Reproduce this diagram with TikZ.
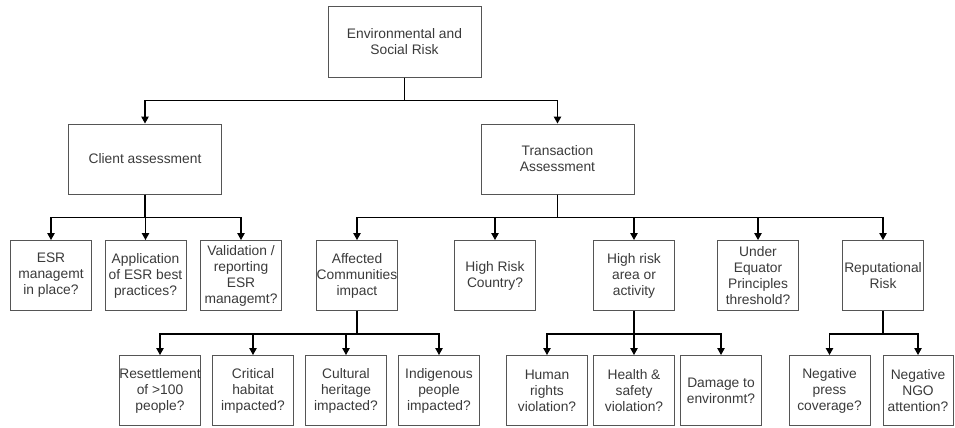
\documentclass[tikz,border=0pt]{standalone}
\usepackage{fontspec}
\setmainfont{Liberation Sans}
\usetikzlibrary{arrows.meta}
\definecolor{boxline}{HTML}{555555}
\definecolor{textgray}{HTML}{3A3A3A}

\begin{document}
\begin{tikzpicture}[
    x=1pt, y=-1pt,
    every node/.style={font=\fontsize{13.8}{16}\selectfont, text=textgray},
    mainbox/.style={
        rectangle,
        draw=boxline,
        line width=1pt,
        minimum width=153pt,
        minimum height=70pt,
        inner sep=0pt,
        align=center
    },
    qbox/.style={
        mainbox,
        minimum width=81pt
    },
    arrow/.style={line width=1.1pt, -{Triangle[width=7.5pt,length=7pt]}, color=black}
]
\useasboundingbox (0,0) rectangle (955,428);

% Root
\node[mainbox] (root) at (404.5,42) {Environmental and\\Social Risk};

% Main branches
\node[mainbox] (client) at (145,159) {Client assessment};
\node[mainbox] (trans) at (557.5,159) {Transaction\\Assessment};

\draw[arrow] (root.south) -- ++(0,23) -| (client.north);
\draw[arrow] (root.south) -- ++(0,23) -| (trans.north);

% Client questions
\node[qbox] (c1) at (51,275.5) {ESR\\managemt\\in place?};
\node[qbox] (c2) at (145.5,275.5) {Application\\of ESR best\\practices?};
\node[qbox] (c3) at (241,275.5) {Validation /\\reporting\\ESR\\managemt?};

% Transaction topics
\node[qbox] (t1) at (357,275.5) {Affected\\Communities\\impact};
\node[qbox] (t2) at (495,275.5) {High Risk\\Country?};
\node[qbox] (t3) at (634,275.5) {High risk\\area or\\activity};
\node[qbox] (t4) at (758,275.5) {Under\\Equator\\Principles\\threshold?};
\node[qbox] (t5) at (883,275.5) {Reputational\\Risk};

\draw[arrow] (client.south) -- ++(0,23) -| (c1.north);
\draw[arrow] (client.south) -- ++(0,23) -| (c2.north);
\draw[arrow] (client.south) -- ++(0,23) -| (c3.north);

\draw[arrow] (trans.south) -- ++(0,23) -| (t1.north);
\draw[arrow] (trans.south) -- ++(0,23) -| (t2.north);
\draw[arrow] (trans.south) -- ++(0,23) -| (t3.north);
\draw[arrow] (trans.south) -- ++(0,23) -| (t4.north);
\draw[arrow] (trans.south) -- ++(0,23) -| (t5.north);

% Affected communities
\node[qbox] (a1) at (160,390.5) {Resettlement\\of >100\\people?};
\node[qbox] (a2) at (253,390.5) {Critical\\habitat\\impacted?};
\node[qbox] (a3) at (346,390.5) {Cultural\\heritage\\impacted?};
\node[qbox] (a4) at (439,390.5) {Indigenous\\people\\impacted?};

% High risk area or activity
\node[qbox] (h1) at (547,390.5) {Human\\rights\\violation?};
\node[qbox] (h2) at (634,390.5) {Health \&\\safety\\violation?};
\node[qbox] (h3) at (721,390.5) {Damage to\\environmt?};

% Reputational risk
\node[qbox] (r1) at (829.5,390.5) {Negative\\press\\coverage?};
\node[qbox, minimum width=70pt] (r2) at (918,390.5) {Negative\\NGO\\attention?};

\draw[arrow] (t1.south) -- ++(0,23) -| (a1.north);
\draw[arrow] (t1.south) -- ++(0,23) -| (a2.north);
\draw[arrow] (t1.south) -- ++(0,23) -| (a3.north);
\draw[arrow] (t1.south) -- ++(0,23) -| (a4.north);

\draw[arrow] (t3.south) -- ++(0,23) -| (h1.north);
\draw[arrow] (t3.south) -- ++(0,23) -| (h2.north);
\draw[arrow] (t3.south) -- ++(0,23) -| (h3.north);

\draw[arrow] (t5.south) -- ++(0,23) -| (r1.north);
\draw[arrow] (t5.south) -- ++(0,23) -| (r2.north);

\end{tikzpicture}
\end{document}
